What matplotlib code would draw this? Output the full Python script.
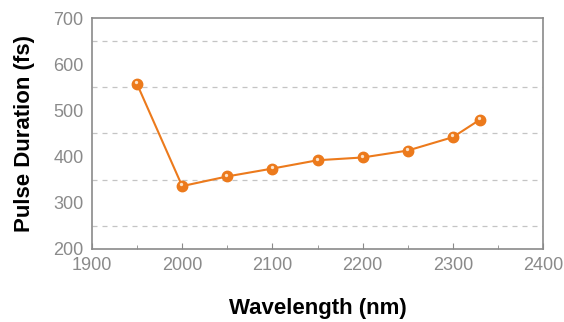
import matplotlib
matplotlib.use("Agg")
import matplotlib.pyplot as plt
from matplotlib.ticker import MultipleLocator
from matplotlib.transforms import offset_copy

# Data
wavelength = [1950, 2000, 2050, 2100, 2150, 2200, 2250, 2300, 2330]
duration = [557, 336, 357, 374, 392, 398, 413, 442, 480]

orange = "#EC7A1C"
gray = "#8a8a8a"

plt.rcParams["font.family"] = ["Liberation Sans", "DejaVu Sans"]

fig = plt.figure(figsize=(5.64, 3.22), dpi=100)
ax = fig.add_axes([0.163, 0.227, 0.8, 0.717])

ax.plot(wavelength, duration, color=orange, lw=1.5, marker="o",
        markersize=7.5, markerfacecolor=orange, markeredgecolor=orange, zorder=3)
# small highlight on each sphere
hl = offset_copy(ax.transData, fig=fig, x=-0.6, y=1.2, units="points")
ax.plot(wavelength, duration, ls="none", marker="o", markersize=2.4,
        color="#fde3c8", markeredgewidth=0, transform=hl, zorder=4)

ax.set_xlim(1900, 2400)
ax.set_ylim(200, 700)
ax.xaxis.set_major_locator(MultipleLocator(100))
ax.xaxis.set_minor_locator(MultipleLocator(50))
ax.yaxis.set_major_locator(MultipleLocator(100))
ax.yaxis.set_minor_locator(MultipleLocator(50))

ax.grid(which="minor", axis="y", color="#c4c4c4", ls=(0, (4, 4)), lw=0.9)
ax.set_axisbelow(True)

ax.tick_params(axis="x", which="both", direction="in", colors=gray,
               labelsize=13, top=False, pad=6)
ax.tick_params(axis="x", which="major", length=4)
ax.tick_params(axis="x", which="minor", length=3)
ax.tick_params(axis="y", which="both", length=0, colors=gray, labelsize=13, pad=6)
for lab in ax.get_xticklabels() + ax.get_yticklabels():
    lab.set_color(gray)

for s in ax.spines.values():
    s.set_color(gray)
    s.set_linewidth(1.2)

ax.set_xlabel("Wavelength (nm)", fontsize=16, fontweight="bold", labelpad=17)
ax.set_ylabel("Pulse Duration (fs)", fontsize=16, fontweight="bold", labelpad=13)

fig.savefig("out.png", dpi=100)
